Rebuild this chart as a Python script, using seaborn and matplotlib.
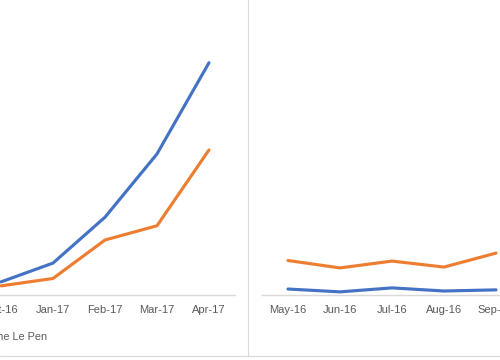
import matplotlib
matplotlib.use('Agg')
import matplotlib.pyplot as plt
import seaborn as sns
import pandas as pd
from matplotlib.lines import Line2D

sns.set_theme(style='white')
plt.rcParams['font.family'] = ['Liberation Sans', 'DejaVu Sans']

left_months = ['Oct-16', 'Jan-17', 'Feb-17', 'Mar-17', 'Apr-17']
left_macron = [4.6, 11.2, 27.3, 49.5, 81.5]
left_lepen = [3.2, 5.8, 19.3, 24.3, 50.9]

right_months = ['May-16', 'Jun-16', 'Jul-16', 'Aug-16', 'Sep-16']
right_macron = [2.1, 1.1, 2.5, 1.4, 1.8]
right_lepen = [12.1, 9.5, 11.9, 9.8, 14.7]

series_names = ['Emmanuel Macron', 'Marine Le Pen']
colors = ['#4472C4', '#ED7D31']
text_color = '#595959'
grid_color = '#D9D9D9'

W, H = 500, 360
fig = plt.figure(figsize=(5, 3.6), dpi=100)

def fx(px):
    return px / W

def fy(py):
    return 1 - py / H

base_y = 295
top_y = 10
ax_l = fig.add_axes([fx(-25), fy(base_y), fx(260), (base_y - top_y) / H])
ax_r = fig.add_axes([fx(262), fy(base_y), fx(260), (base_y - top_y) / H])

def long_df(months, a, b):
    return pd.DataFrame({
        'month': months * 2,
        'value': a + b,
        'series': [series_names[0]] * len(months) + [series_names[1]] * len(months),
    })

for ax, months, a, b in [(ax_l, left_months, left_macron, left_lepen),
                         (ax_r, right_months, right_macron, right_lepen)]:
    df = long_df(months, a, b)
    sns.lineplot(data=df, x='month', y='value', hue='series', palette=colors,
                 hue_order=series_names, sort=False, linewidth=2.25, ax=ax,
                 legend=False)
    ax.set_xlim(-0.5, len(months) - 0.5)
    ax.set_ylim(0, 100)
    for s in ['top', 'right', 'left']:
        ax.spines[s].set_visible(False)
    ax.spines['bottom'].set_color(grid_color)
    ax.spines['bottom'].set_linewidth(1.0)
    ax.set_yticks([])
    ax.set_xlabel('')
    ax.set_ylabel('')
    ax.tick_params(axis='x', length=0, pad=7.5, labelsize=8, labelcolor=text_color)
    ax.set_facecolor('none')

handles = [Line2D([], [], color=c, lw=2.25) for c in colors]
fig.legend(handles, series_names, loc='center right',
           bbox_to_anchor=(fx(47), fy(336.5)), bbox_transform=fig.transFigure,
           ncol=2, frameon=False, fontsize=7.8, labelcolor=text_color,
           borderpad=0, borderaxespad=0, handlelength=2.0, columnspacing=1.5)

fig.add_artist(Line2D([fx(248), fx(248)], [1, fy(355.5)], color=grid_color,
                      lw=0.8, transform=fig.transFigure))
fig.add_artist(Line2D([0, 1], [fy(355.5), fy(355.5)], color=grid_color,
                      lw=0.8, transform=fig.transFigure))

fig.savefig('out.png', dpi=100)
